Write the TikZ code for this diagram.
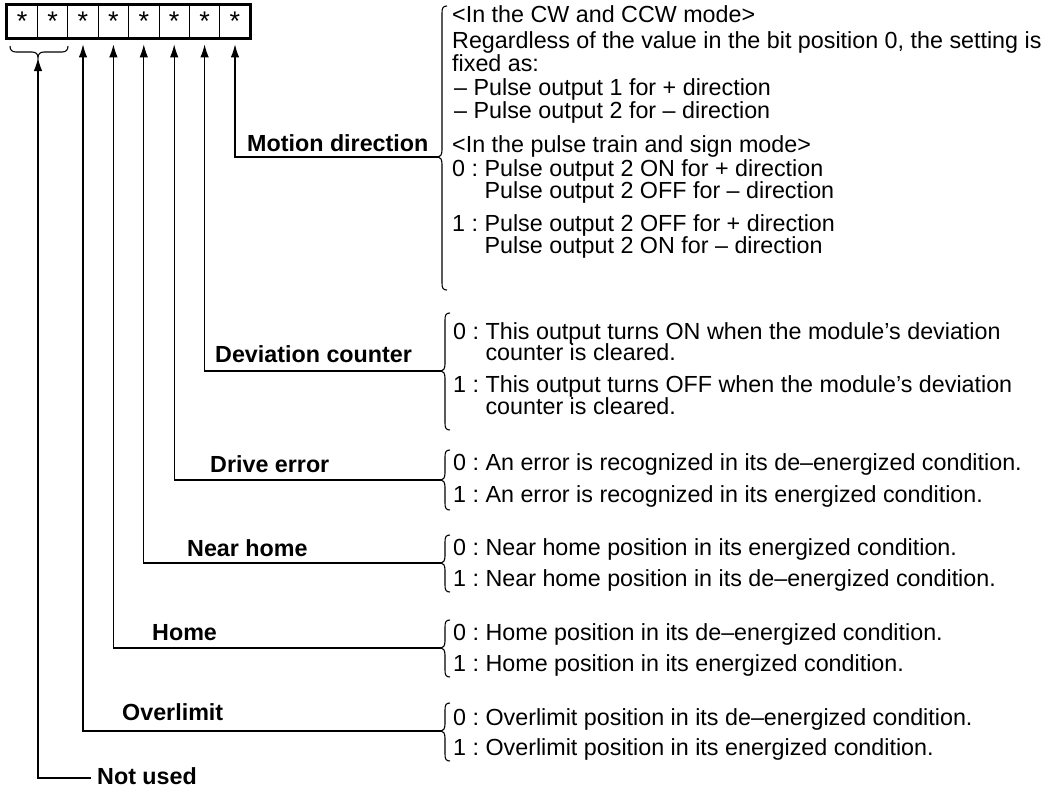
\documentclass[tikz,border=0pt]{standalone}
\usepackage{fontspec}
\setmainfont{Liberation Sans}
\usetikzlibrary{arrows.meta}
\frenchspacing
\newcommand\rbr[4]{%
  \draw[conn] (#1+9,#2) .. controls (#1+5,#2) and (#1+4,#2+2) .. (#1+4,#2+7)
    -- (#1+4,#3-7) .. controls (#1+4,#3-2) and (#1+2,#3) .. (#1,#3)
    .. controls (#1+2,#3) and (#1+4,#3+2) .. (#1+4,#3+7)
    -- (#1+4,#4-7) .. controls (#1+4,#4-2) and (#1+5,#4) .. (#1+9,#4);}
\newcommand\indentno{\hphantom{0 :\ }}
\tikzset{
  conn/.style={line width=1.1pt},
  arr/.style={conn, -{Latex[length=13pt,width=8.5pt]}},
  txt/.style={anchor=base west, inner sep=0pt, font=\fontsize{23.3}{27}\selectfont},
  lbl/.style={txt, font=\fontsize{23.3}{27}\selectfont\bfseries},
  cell/.style={draw, line width=0.8pt, minimum width=30.4pt, minimum height=33pt, inner sep=0pt, font=\fontsize{27}{30}\selectfont},
}
\begin{document}
\begin{tikzpicture}[x=1pt,y=-1pt]
\useasboundingbox (0,0) rectangle (1062,788);
% register
\foreach \i in {0,...,7}{
  \node[cell] (c\i) at ({22.2+30.4*\i},21.5) {\raisebox{-0.22em}{*}};
}
\draw[line width=2.6pt] (c0.north west) rectangle (c7.south east);
% brace under bits 0-1
\draw[conn] (10,46) .. controls (10,50) and (12,52) .. (16,52) -- (32,52)
  .. controls (36,52) and (38,54) .. (38,58)
  .. controls (38,54) and (40,52) .. (44,52) -- (62,52)
  .. controls (66,52) and (68,50) .. (68,46);
\coordinate (bt) at (38,58);
% right braces
\rbr{438}{6}{157}{290}
\rbr{441}{313}{371}{430}
\rbr{441}{450}{480}{510}
\rbr{441}{535}{563}{592}
\rbr{441}{620}{648}{677}
\rbr{441}{703}{731}{761}
\coordinate (tMD) at (438,157);
\coordinate (tDC) at (441,371);
\coordinate (tDE) at (441,480);
\coordinate (tNH) at (441,563);
\coordinate (tHO) at (441,648);
\coordinate (tOL) at (441,731);
% connectors
\draw[arr, shorten >=6pt] (tMD) -| (c7.south);
\draw[arr, shorten >=6pt] (tDC) -| (c6.south);
\draw[arr, shorten >=6pt] (tDE) -| (c5.south);
\draw[arr, shorten >=6pt] (tNH) -| (c4.south);
\draw[arr, shorten >=6pt] (tHO) -| (c3.south);
\draw[arr, shorten >=6pt] (tOL) -| (c2.south);
% labels
\node[lbl] (lMD) at (247,151) {Motion direction};
\node[lbl] (lDC) at (215,362) {Deviation counter};
\node[lbl] (lDE) at (210,472) {Drive error};
\node[lbl] (lNH) at (187,556) {Near home};
\node[lbl] (lHO) at (152,640) {Home};
\node[lbl] (lOL) at (122,720) {Overlimit};
\node[lbl] (lNU) at (97,784) {Not used};
\coordinate (nu) at (38,778);
\draw[arr] ([xshift=-6pt]lNU.west |- nu) -- (nu) -- (bt);
% motion direction texts
\node[txt] (m1) at (452,22) {<In the CW and CCW mode>};
\node[txt] (m2) at (452,48) {Regardless of the value in the bit position 0, the setting is};
\node[txt] (m3) at (452,71) {fixed as:};
\node[txt] (m4) at (454,95) {– Pulse output 1 for + direction};
\node[txt] (m5) at (454,118) {– Pulse output 2 for – direction};
\node[txt] (m6) at (452,152) {<In the pulse train and sign mode>};
\node[txt] (m7) at (452,176) {0 : Pulse output 2 ON for + direction};
\node[txt] (m8) at (452,198) {\indentno Pulse output 2 OFF for – direction};
\node[txt] (m9) at (452,231) {1 : Pulse output 2 OFF for + direction};
\node[txt] (m10) at (452,253) {\indentno Pulse output 2 ON for – direction};
% deviation counter texts
\node[txt] (d1) at (453,339) {0 : This output turns ON when the module’s deviation};
\node[txt] (d2) at (453,360) {\indentno counter is cleared.};
\node[txt] (d3) at (453,392) {1 : This output turns OFF when the module’s deviation};
\node[txt] (d4) at (453,414) {\indentno counter is cleared.};
% drive error
\node[txt] (e1) at (453,470) {0 : An error is recognized in its de–energized condition.};
\node[txt] (e2) at (453,502) {1 : An error is recognized in its energized condition.};
% near home
\node[txt] (n1) at (453,555) {0 : Near home position in its energized condition.};
\node[txt] (n2) at (453,586) {1 : Near home position in its de–energized condition.};
% home
\node[txt] (h1) at (453,640) {0 : Home position in its de–energized condition.};
\node[txt] (h2) at (453,671) {1 : Home position in its energized condition.};
% overlimit
\node[txt] (o1) at (453,725) {0 : Overlimit position in its de–energized condition.};
\node[txt] (o2) at (453,755) {1 : Overlimit position in its energized condition.};
\end{tikzpicture}
\end{document}
